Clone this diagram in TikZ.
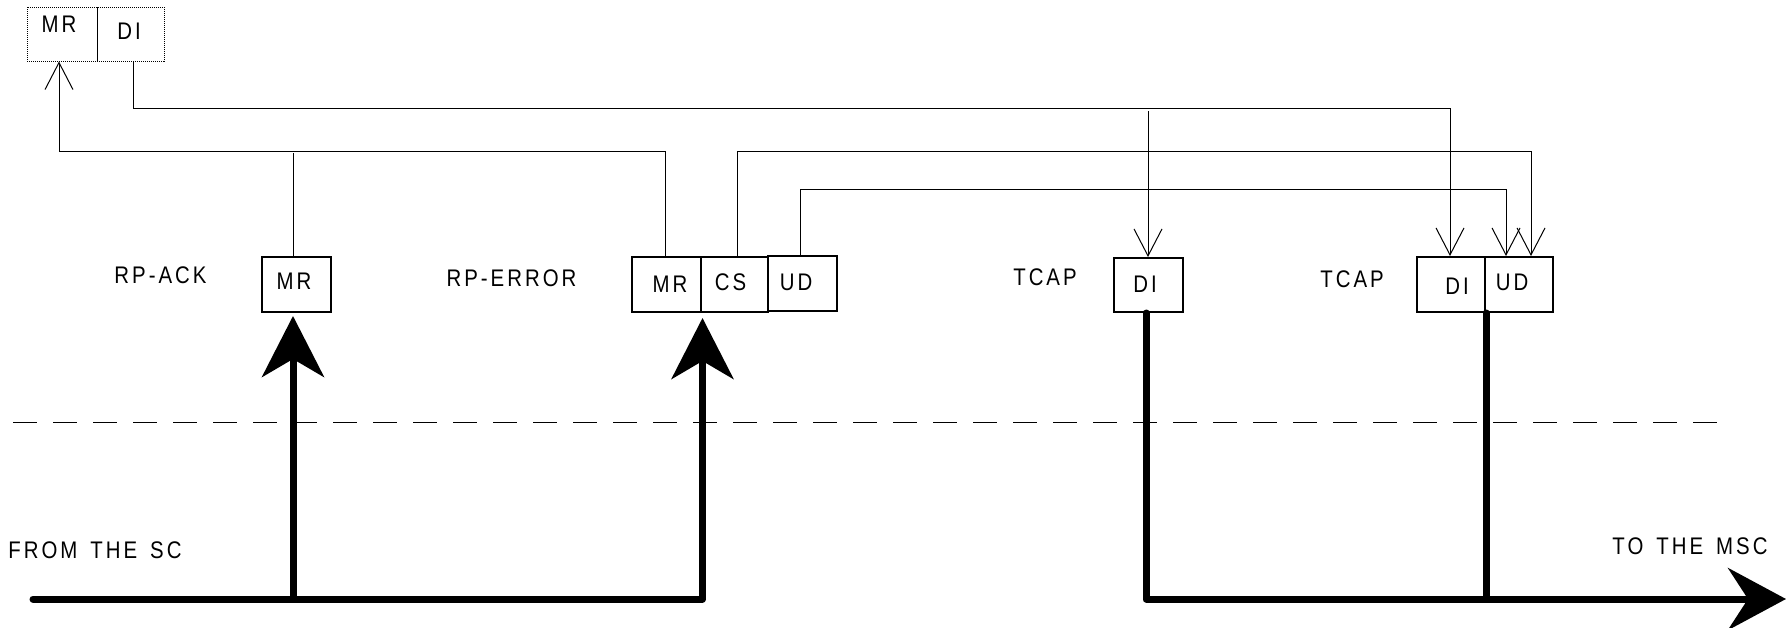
\documentclass[tikz,border=0pt]{standalone}
\usepackage{fontspec}
\setmainfont{Liberation Sans}[LetterSpace=12.5,FakeStretch=0.85,WordSpace=1.5]
\usetikzlibrary{arrows.meta}
\begin{document}
\begin{tikzpicture}[x=1pt,y=-1pt,
  txt/.style={inner sep=0pt, font=\fontsize{24}{28}\selectfont},
  boxn/.style={draw, line width=2pt, minimum height=55pt, inner sep=0pt, anchor=center},
  dboxn/.style={draw, line width=1pt, dash pattern=on 1pt off 1pt, minimum height=54pt, inner sep=0pt, anchor=center},
  thinline/.style={line width=1pt},
  barb/.style={-{Straight Barb[length=27pt,width=28pt]}},
  thickline/.style={line width=7pt, line cap=round, line join=round},
  bigarrow/.style={-{Stealth[length=61pt,width=62pt,inset=18pt]}},
  endarrow/.style={-{Stealth[length=58pt,width=62pt,inset=20pt]}}
]
\useasboundingbox (0,0) rectangle (1786,627);

% dotted boxes
\node[dboxn, minimum width=70pt] (dMR) at (62,34) {};
\node[dboxn, minimum width=67pt] (dDI) at (130.5,34) {};
\node[txt] (tdMR) at (59,24) {MR};
\node[txt] (tdDI) at (129,31) {DI};

% boxes
\node[boxn, minimum width=69pt] (ackMR) at (296.5,284.5) {};
\node[boxn, minimum width=69pt] (errMR) at (666.5,284.5) {};
\node[boxn, minimum width=67pt] (errCS) at (734.5,284.5) {};
\node[boxn, minimum width=69pt] (errUD) at (802.5,283.5) {};
\node[boxn, minimum width=69pt, minimum height=54pt] (t1DI) at (1148.5,285) {};
\node[boxn, minimum width=68pt] (t2DI) at (1451,284.5) {};
\node[boxn, minimum width=68pt] (t2UD) at (1519,284.5) {};

\node[txt] (tackMR) at (294,281.5) {MR};
\node[txt] (terrMR) at (670,284) {MR};
\node[txt] (terrCS) at (730.5,282.5) {CS};
\node[txt] (terrUD) at (796,282) {UD};
\node[txt] (tt1DI) at (1145,284.5) {DI};
\node[txt] (tt2DI) at (1457,286) {DI};
\node[txt] (tt2UD) at (1512,282) {UD};

% labels
\node[txt] (lack) at (160.5,275.5) {RP-ACK};
\node[txt] (lerr) at (511.5,278) {RP-ERROR};
\node[txt] (ltc1) at (1045,277) {TCAP};
\node[txt] (ltc2) at (1352,279) {TCAP};
\node[txt] (lsc) at (95,550) {FROM THE SC};
\node[txt] (lmsc) at (1690,546) {TO THE MSC};

% dashed separator
\coordinate (dashL) at (13,422);
\coordinate (dashR) at (1717,422);
\draw[thinline, dash pattern=on 24pt off 16pt] (dashL) -- (dashR);

% thin connectors
\draw[thinline, barb] ([xshift=-1.5pt]errMR.north) -- ++(0,-105) -| ([xshift=-3pt]dMR.south);
\draw[thinline] ([xshift=-3.5pt]ackMR.north) -- ++(0,-103);
\draw[thinline, barb] ([xshift=2.5pt]dDI.south) -- ++(0,47) -| ([xshift=-1pt]t2DI.north);
\coordinate (diTap) at (1148,111);
\draw[thinline, barb] (diTap) -- (t1DI.north -| diTap);
\draw[thinline, barb] ([xshift=2.5pt]errCS.north) -- ++(0,-105) -| ([xshift=12pt]t2UD.north);
\draw[thinline, barb] ([xshift=-2.5pt]errUD.north) -- ++(0,-66) -| ([xshift=-13pt]t2UD.north);

% thick flows
\coordinate (sc) at (33,599);
\coordinate (mscEnd) at (1786,599);
\draw[thickline, bigarrow, shorten >=5pt] (sc) -| ([xshift=0.5pt]errMR.south east);
\draw[thickline, bigarrow, shorten >=3pt] ([xshift=-3.5pt]ackMR.south |- sc) -- ([xshift=-3.5pt]ackMR.south);
\draw[thickline, endarrow] ([xshift=-2.5pt]t1DI.south) |- (mscEnd);
\draw[thickline] (t2DI.south east) -- (t2DI.south east |- sc);
\end{tikzpicture}
\end{document}
